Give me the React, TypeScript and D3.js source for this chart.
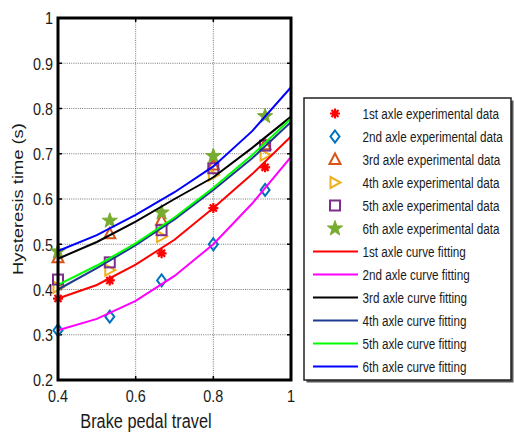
import React from "react";
import * as d3 from "d3";

const xData = [0.4, 0.5333, 0.6667, 0.8, 0.9333];
const exp1 = [0.38, 0.42, 0.48, 0.58, 0.67];
const exp2 = [0.31, 0.34, 0.42, 0.5, 0.62];
const exp3 = [0.47, 0.523, 0.553, 0.675, 0.72];
const exp4 = [0.405, 0.443, 0.517, 0.653, 0.697];
const exp5 = [0.422, 0.46, 0.531, 0.668, 0.718];
const exp6 = [0.484, 0.552, 0.57, 0.695, 0.783];

const xFit = [0.4, 0.5, 0.6, 0.7, 0.8, 0.9, 1.0];
const fit1 = [0.38, 0.41, 0.455, 0.51, 0.58, 0.655, 0.738];
const fit2 = [0.31, 0.335, 0.375, 0.43, 0.5, 0.59, 0.693];
const fit3 = [0.468, 0.505, 0.55, 0.6, 0.648, 0.713, 0.782];
const fit4 = [0.4, 0.447, 0.498, 0.555, 0.62, 0.69, 0.77];
const fit5 = [0.41, 0.453, 0.502, 0.559, 0.625, 0.697, 0.778];
const fit6 = [0.485, 0.52, 0.565, 0.615, 0.672, 0.75, 0.847];

const xTicks = [0.4, 0.6, 0.8, 1];
const yTicks = [0.2, 0.3, 0.4, 0.5, 0.6, 0.7, 0.8, 0.9, 1];

const expSeries = [
  { name: "1st axle experimental data", values: exp1, marker: "asterisk", color: "#FF0000" },
  { name: "2nd axle experimental data", values: exp2, marker: "diamond", color: "#0072BD" },
  { name: "3rd axle experimental data", values: exp3, marker: "triangle", color: "#D95319" },
  { name: "4th axle experimental data", values: exp4, marker: "right", color: "#EDB120" },
  { name: "5th axle experimental data", values: exp5, marker: "square", color: "#7E2F8E" },
  { name: "6th axle experimental data", values: exp6, marker: "star", color: "#77AC30" },
];
const fitSeries = [
  { name: "1st axle curve fitting", values: fit1, color: "#FF0000" },
  { name: "2nd axle curve fitting", values: fit2, color: "#FF00FF" },
  { name: "3rd axle curve fitting", values: fit3, color: "#000000" },
  { name: "4th axle curve fitting", values: fit4, color: "#1F3A8F" },
  { name: "5th axle curve fitting", values: fit5, color: "#00FF00" },
  { name: "6th axle curve fitting", values: fit6, color: "#0000FF" },
];

const FONT = "Arial, 'Liberation Sans', sans-serif";
const VS = 1.2; // vertical stretch of text

function Marker({ type, x, y, color }: { type: string; x: number; y: number; color: string }) {
  if (type === "diamond") {
    return <path d={`M${x},${y - 6}L${x + 4.5},${y}L${x},${y + 6}L${x - 4.5},${y}Z`} fill="none" stroke={color} strokeWidth={2} />;
  }
  if (type === "triangle") {
    return <path d={`M${x},${y - 6}L${x + 5.5},${y + 4.5}L${x - 5.5},${y + 4.5}Z`} fill="none" stroke={color} strokeWidth={2} />;
  }
  if (type === "right") {
    return <path d={`M${x - 4.5},${y - 5.5}L${x + 5.5},${y}L${x - 4.5},${y + 5.5}Z`} fill="none" stroke={color} strokeWidth={2} />;
  }
  if (type === "square") {
    return <rect x={x - 5} y={y - 5} width={10} height={10} fill="none" stroke={color} strokeWidth={2} />;
  }
  if (type === "star") {
    const pts: [number, number][] = [];
    for (let i = 0; i < 10; i++) {
      const r = i % 2 === 0 ? 8 : 3.2;
      const a = -Math.PI / 2 + (i * Math.PI) / 5;
      pts.push([x + r * Math.cos(a), y + r * Math.sin(a)]);
    }
    return <path d={d3.line()(pts) + "Z"} fill={color} stroke={color} strokeWidth={1} />;
  }
  const r = 5;
  const segs = [0, 45, 90, 135].map((deg) => {
    const a = (deg * Math.PI) / 180;
    return `M${x - r * Math.cos(a)},${y - r * Math.sin(a)}L${x + r * Math.cos(a)},${y + r * Math.sin(a)}`;
  });
  return (
    <g>
      <path d={segs.join("")} stroke={color} strokeWidth={2.2} fill="none" />
      <circle cx={x} cy={y} r={2.8} fill={color} />
    </g>
  );
}

function T({ x, y, size, anchor, children }: { x: number; y: number; size: number; anchor?: string; children: React.ReactNode }) {
  return (
    <text transform={`translate(${x},${y}) scale(1,${VS})`} textAnchor={anchor || "start"} fontSize={size} fill="#1a1a1a">
      {children}
    </text>
  );
}

export default function App() {
  const W = 514, H = 432;
  const x = d3.scaleLinear().domain([0.4, 1]).range([58, 291]);
  const y = d3.scaleLinear().domain([0.2, 1]).range([380, 18]);
  const line = d3.line<[number, number]>().x((d) => x(d[0])).y((d) => y(d[1]));

  const lgX = 304, lgY = 98, lgW = 207, lgH = 282;
  const rowY0 = 113.5, rowDy = 23.0;

  return (
    <svg width={W} height={H} style={{ position: "absolute", left: 0, top: 0, background: "#fff" }} fontFamily={FONT}>
      {xTicks.slice(1, -1).map((t) => (
        <line key={"gx" + t} x1={x(t)} x2={x(t)} y1={y(1)} y2={y(0.2)} stroke="#555" strokeWidth={0.8} strokeDasharray="1,1.2" />
      ))}
      {yTicks.slice(1, -1).map((t) => (
        <line key={"gy" + t} x1={x(0.4)} x2={x(1)} y1={y(t)} y2={y(t)} stroke="#555" strokeWidth={0.8} strokeDasharray="1,1.2" />
      ))}
      {xTicks.map((t) => (
        <g key={"tx" + t}>
          <line x1={x(t)} x2={x(t)} y1={y(0.2)} y2={y(0.2) - 4} stroke="#000" strokeWidth={1.5} />
          <line x1={x(t)} x2={x(t)} y1={y(1)} y2={y(1) + 4} stroke="#000" strokeWidth={1.5} />
          <T x={x(t)} y={402} size={14.4} anchor="middle">{d3.format("~g")(t)}</T>
        </g>
      ))}
      {yTicks.map((t) => (
        <g key={"ty" + t}>
          <line x1={x(0.4)} x2={x(0.4) + 4} y1={y(t)} y2={y(t)} stroke="#000" strokeWidth={1.5} />
          <line x1={x(1)} x2={x(1) - 4} y1={y(t)} y2={y(t)} stroke="#000" strokeWidth={1.5} />
          <T x={53} y={y(t) + 6.3} size={14.4} anchor="end">{d3.format("~g")(t)}</T>
        </g>
      ))}
      {expSeries.map((s) =>
        s.values.map((v, i) => <Marker key={s.name + i} type={s.marker} x={x(xData[i])} y={y(v)} color={s.color} />)
      )}
      {fitSeries.map((s) => (
        <path key={s.name} d={line(xFit.map((xv, i) => [xv, s.values[i]]) as [number, number][]) || ""} fill="none" stroke={s.color} strokeWidth={2} />
      ))}
      <rect x={x(0.4)} y={y(1)} width={x(1) - x(0.4)} height={y(0.2) - y(1)} fill="none" stroke="#000" strokeWidth={3} />
      <T x={146} y={428} size={16.3} anchor="middle">Brake pedal travel</T>
      <text transform={`translate(23,${y(0.6)}) rotate(-90) scale(${VS},1)`} textAnchor="middle" fontSize={15.3} fill="#1a1a1a">Hysteresis time (s)</text>
      <rect x={lgX + 2.5} y={lgY + 2.5} width={lgW} height={lgH} fill="#555" />
      <rect x={lgX} y={lgY} width={lgW} height={lgH} fill="#fff" stroke="#222" strokeWidth={1.5} />
      {expSeries.map((s, i) => (
        <g key={"le" + i}>
          <Marker type={s.marker} x={335} y={rowY0 + i * rowDy} color={s.color} />
          <T x={362.5} y={rowY0 + i * rowDy + 5} size={11.7}>{s.name}</T>
        </g>
      ))}
      {fitSeries.map((s, j) => {
        const i = j + 6;
        return (
          <g key={"lf" + j}>
            <line x1={313} x2={358} y1={rowY0 + i * rowDy} y2={rowY0 + i * rowDy} stroke={s.color} strokeWidth={2} />
            <T x={362.5} y={rowY0 + i * rowDy + 5} size={11.7}>{s.name}</T>
          </g>
        );
      })}
    </svg>
  );
}
